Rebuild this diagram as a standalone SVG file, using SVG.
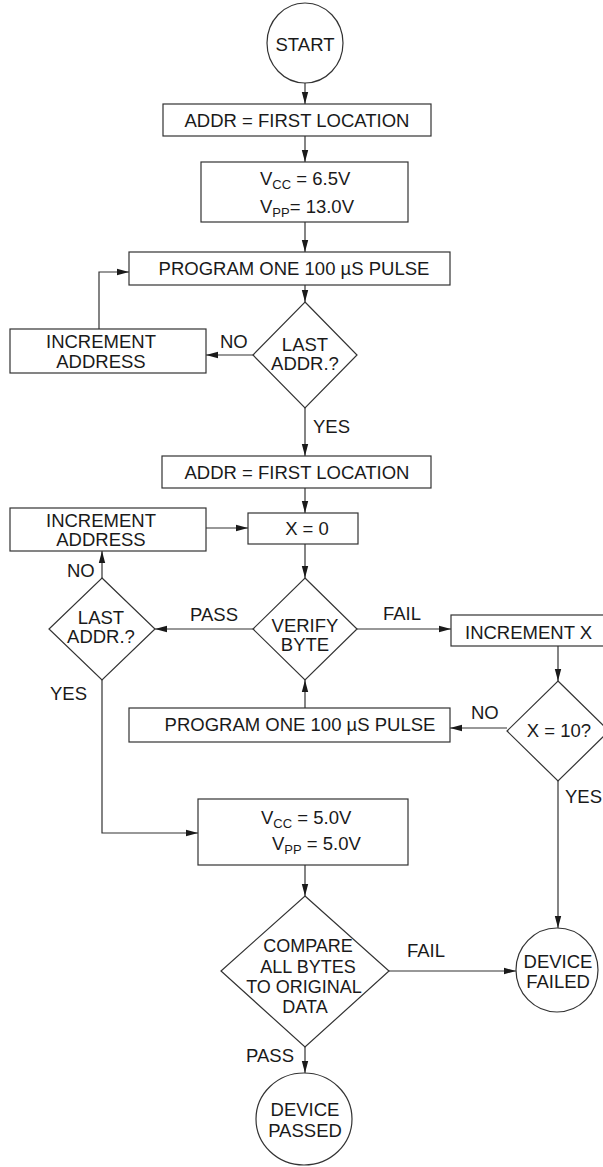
<svg xmlns="http://www.w3.org/2000/svg" width="603" height="1167" viewBox="0 0 603 1167">
<style>
.s{fill:#fff;stroke:#333;stroke-width:1.2}
.c{fill:none;stroke:#333;stroke-width:1.2}
text{font-family:"Liberation Sans",Arial,Helvetica,sans-serif;font-size:18.5px;fill:#1a1a1a}
.m{text-anchor:middle}
.sub{font-size:13px}
</style>
<defs>
<marker id="a" viewBox="0 0 12 8" refX="12" refY="4" markerWidth="12" markerHeight="8" markerUnits="userSpaceOnUse" orient="auto">
<path d="M0,0.8 L12,4 L0,7.2 Z" fill="#1a1a1a"/>
</marker>
</defs>
<rect width="603" height="1167" fill="#fff"/>
<g id="connectors" class="c" marker-end="url(#a)">
<line x1="305" y1="83" x2="305" y2="104"/>
<line x1="305" y1="136" x2="305" y2="162"/>
<line x1="305" y1="222" x2="305" y2="252"/>
<line x1="305" y1="285" x2="305" y2="302"/>
<line x1="253" y1="355" x2="206" y2="355"/>
<polyline points="99,329 99,272 129,272"/>
<line x1="305" y1="408" x2="305" y2="456"/>
<line x1="305" y1="488" x2="305" y2="513"/>
<line x1="206" y1="528" x2="248" y2="528"/>
<line x1="305" y1="544" x2="305" y2="578"/>
<line x1="253" y1="629" x2="155" y2="629"/>
<line x1="102" y1="578" x2="102" y2="551"/>
<line x1="357" y1="629" x2="451" y2="629"/>
<line x1="558" y1="646" x2="558" y2="681"/>
<line x1="507" y1="728" x2="450" y2="728"/>
<line x1="305" y1="708" x2="305" y2="680"/>
<polyline points="102,680 102,833 198,833"/>
<line x1="558" y1="781" x2="558" y2="928"/>
<line x1="305" y1="865" x2="305" y2="896"/>
<line x1="389" y1="971" x2="516" y2="971"/>
<line x1="305" y1="1047" x2="305" y2="1073"/>
</g>
<g id="labels">
<text x="220" y="348">NO</text>
<text x="313" y="433">YES</text>
<text x="67" y="577">NO</text>
<text x="190" y="621">PASS</text>
<text x="383" y="620">FAIL</text>
<text x="50" y="700">YES</text>
<text x="471" y="719">NO</text>
<text x="565" y="803">YES</text>
<text x="407" y="957">FAIL</text>
<text x="246" y="1062">PASS</text>
</g>
<g id="start">
<ellipse class="s" cx="305" cy="43" rx="38" ry="40"/>
<text class="m" x="305" y="51">START</text>
</g>
<g id="addr1">
<rect class="s" x="163" y="104" width="268" height="32"/>
<text class="m" x="297" y="127">ADDR = FIRST LOCATION</text>
</g>
<g id="vcc1">
<rect class="s" x="201" y="162" width="207" height="60"/>
<text x="260" y="185">V<tspan class="sub" dy="4">CC</tspan><tspan dy="-4"> = 6.5V</tspan></text>
<text x="260" y="213">V<tspan class="sub" dy="4">PP</tspan><tspan dy="-4">= 13.0V</tspan></text>
</g>
<g id="program1">
<rect class="s" x="129" y="252" width="321" height="33"/>
<text class="m" x="294" y="275">PROGRAM ONE 100 µS PULSE</text>
</g>
<g id="lastaddr1">
<polygon class="s" points="305,302 357,355 305,408 253,355"/>
<text class="m" x="305" y="351">LAST</text>
<text class="m" x="305" y="370">ADDR.?</text>
</g>
<g id="incaddr1">
<rect class="s" x="10" y="329" width="196" height="44"/>
<text class="m" x="101" y="348">INCREMENT</text>
<text class="m" x="101" y="368">ADDRESS</text>
</g>
<g id="addr2">
<rect class="s" x="162" y="456" width="269" height="32"/>
<text class="m" x="297" y="479">ADDR = FIRST LOCATION</text>
</g>
<g id="incaddr2">
<rect class="s" x="10" y="508" width="196" height="43"/>
<text class="m" x="101" y="527">INCREMENT</text>
<text class="m" x="101" y="546">ADDRESS</text>
</g>
<g id="x0">
<rect class="s" x="248" y="513" width="110" height="31"/>
<text class="m" x="307" y="535">X = 0</text>
</g>
<g id="verify">
<polygon class="s" points="305,578 357,629 305,680 253,629"/>
<text class="m" x="305" y="632">VERIFY</text>
<text class="m" x="305" y="651">BYTE</text>
</g>
<g id="lastaddr2">
<polygon class="s" points="102,578 155,629 102,680 49,629"/>
<text class="m" x="101" y="624">LAST</text>
<text class="m" x="101" y="643">ADDR.?</text>
</g>
<g id="incx">
<rect class="s" x="451" y="615" width="160" height="31"/>
<text x="465" y="639">INCREMENT X</text>
</g>
<g id="program2">
<rect class="s" x="129" y="708" width="321" height="34"/>
<text class="m" x="300" y="731">PROGRAM ONE 100 µS PULSE</text>
</g>
<g id="x10">
<polygon class="s" points="558,681 609,731 558,781 507,731"/>
<text class="m" x="559" y="737">X = 10?</text>
</g>
<g id="vcc2">
<rect class="s" x="198" y="799" width="210" height="66"/>
<text x="261" y="824">V<tspan class="sub" dy="4">CC</tspan><tspan dy="-4"> = 5.0V</tspan></text>
<text x="272" y="850">V<tspan class="sub" dy="4">PP</tspan><tspan dy="-4"> = 5.0V</tspan></text>
</g>
<g id="compare">
<polygon class="s" points="305,896 389,971 305,1047 221,971"/>
<text class="m" x="308" y="952" style="font-size:18px">COMPARE</text>
<text class="m" x="308" y="973" style="font-size:18px">ALL BYTES</text>
<text class="m" x="304" y="993" style="font-size:18px">TO ORIGINAL</text>
<text class="m" x="305" y="1013" style="font-size:18px">DATA</text>
</g>
<g id="failed">
<ellipse class="s" cx="557" cy="970" rx="41" ry="42"/>
<text class="m" x="558" y="968">DEVICE</text>
<text class="m" x="558" y="988">FAILED</text>
</g>
<g id="passed">
<ellipse class="s" cx="304" cy="1119" rx="48" ry="46"/>
<text class="m" x="305" y="1116">DEVICE</text>
<text class="m" x="305" y="1137">PASSED</text>
</g>
</svg>
